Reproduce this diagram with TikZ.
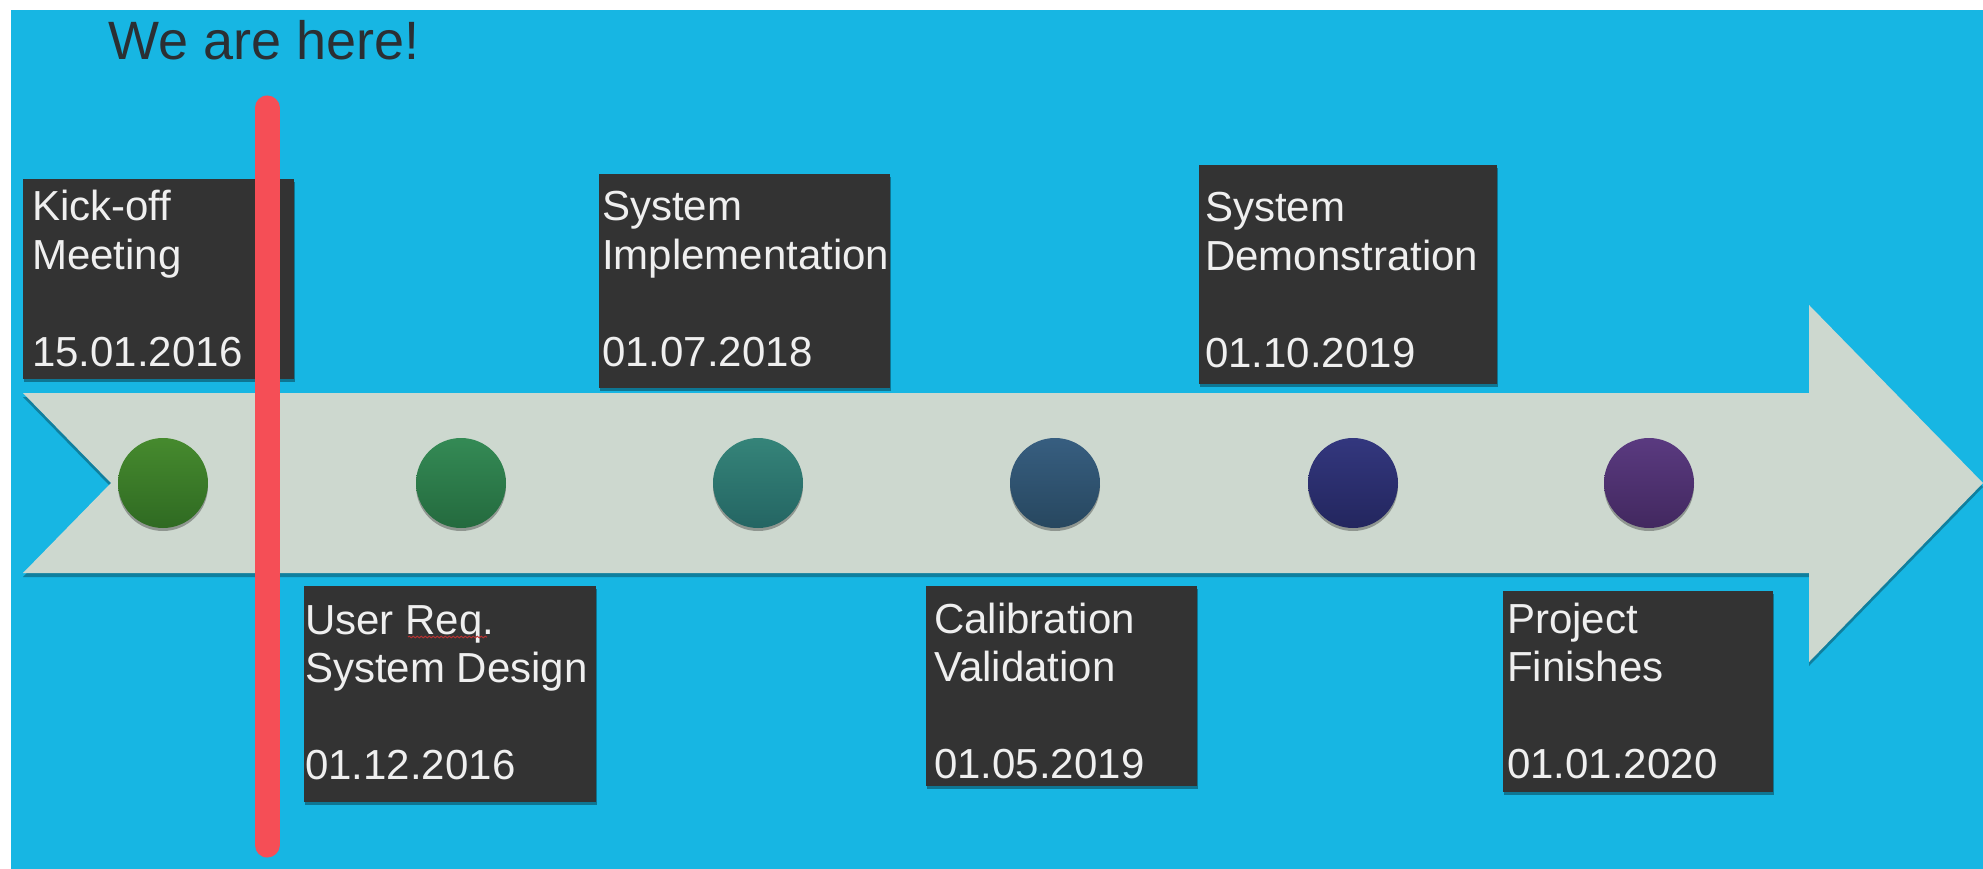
\documentclass[tikz,border=0pt]{standalone}
\usepackage{fontspec}
\setmainfont{Liberation Sans}
\usetikzlibrary{shadows,decorations.pathmorphing}
\definecolor{bgblue}{HTML}{17B6E3}
\definecolor{arrowgray}{HTML}{CDD8CF}
\definecolor{boxdark}{HTML}{333333}
\definecolor{boxtext}{HTML}{EFEFEF}
\definecolor{herered}{HTML}{F54E56}
\definecolor{titlegray}{HTML}{2B2F33}
\definecolor{spellred}{HTML}{B83232}
\newcommand{\mslines}[3]{\vtop{\hbox{#1}\hbox{#2}\hbox{}\hbox{#3}}}
\begin{document}
\begin{tikzpicture}[x=1pt,y=-1pt,
  darkbox/.style={fill=boxdark, draw=none, inner sep=0pt, anchor=north west,
    drop shadow={shadow xshift=1pt, shadow yshift=-2.5pt, opacity=0.35, fill=black}},
  boxlabel/.style={anchor=base west, inner sep=0pt, text=boxtext,
    font=\fontsize{42}{48.5}\selectfont},
  dot/.style={circle, minimum size=90pt, inner sep=0pt, draw=none,
    drop shadow={shadow xshift=0pt, shadow yshift=-3pt, opacity=0.3, fill=black}},
]
\useasboundingbox (0,0) rectangle (1983,869);
\fill[white] (0,0) rectangle (1983,869);
\fill[bgblue] (11,10) rectangle (1983,869);

% timeline arrow
\path[fill=arrowgray, drop shadow={shadow xshift=0pt, shadow yshift=-4pt, opacity=0.3, fill=black}]
  (23,393) -- (1809,393) -- (1809,305) -- (1983,483) -- (1809,662)
  -- (1809,573) -- (23,573) -- (111,483) -- cycle;

% milestone dots
\node[dot, top color={rgb,255:red,70;green,138;blue,46}, bottom color={rgb,255:red,47;green,106;blue,34}] (c1) at (163,483) {};
\node[dot, top color={rgb,255:red,52;green,138;blue,85}, bottom color={rgb,255:red,36;green,106;blue,62}] (c2) at (461,483) {};
\node[dot, top color={rgb,255:red,53;green,132;blue,121}, bottom color={rgb,255:red,36;green,101;blue,99}] (c3) at (758,483) {};
\node[dot, top color={rgb,255:red,55;green,94;blue,128}, bottom color={rgb,255:red,39;green,71;blue,95}] (c4) at (1055,483) {};
\node[dot, top color={rgb,255:red,51;green,55;blue,126}, bottom color={rgb,255:red,35;green,38;blue,94}] (c5) at (1353,483) {};
\node[dot, top color={rgb,255:red,90;green,58;blue,128}, bottom color={rgb,255:red,66;green,40;blue,95}] (c6) at (1649,483) {};

% boxes
\node[darkbox, minimum width=271pt, minimum height=200pt] (b1) at (23,179) {};
\node[darkbox, minimum width=291pt, minimum height=214pt] (b2) at (599,174) {};
\node[darkbox, minimum width=298pt, minimum height=219pt] (b3) at (1199,165) {};
\node[darkbox, minimum width=292pt, minimum height=216pt] (b4) at (304,586) {};
\node[darkbox, minimum width=271pt, minimum height=200pt] (b5) at (926,586) {};
\node[darkbox, minimum width=270pt, minimum height=201pt] (b6) at (1503,591) {};

% labels
\node[boxlabel] (t1) at (32,221) {\mslines{Kick-off}{Meeting}{15.01.2016}};
\node[boxlabel] (t2) at (602,221) {\mslines{System}{Implementation}{01.07.2018}};
\node[boxlabel] (t3) at (1205,222) {\mslines{System}{Demonstration}{01.10.2019}};
\node[boxlabel] (t4) at (305,634) {\mslines{User Req.}{System Design}{01.12.2016}};
\node[boxlabel] (t5) at (934,633) {\mslines{Calibration}{Validation}{01.05.2019}};
\node[boxlabel] (t6) at (1507,633) {\mslines{Project}{Finishes}{01.01.2020}};

% spell-check squiggle under "Req"
\coordinate (sqa) at (408,637);
\coordinate (sqb) at (487,637);
\draw[spellred, line width=1pt, decorate, decoration={snake, amplitude=0.8pt, segment length=4pt}] (sqa) -- (sqb);

% title
\node[anchor=base west, inner sep=0pt, text=titlegray, font=\fontsize{54}{60}\selectfont] (here) at (108,60) {We are here!};

% current position marker
\coordinate (rtop) at (267,108);
\coordinate (rbot) at (267,845);
\draw[herered, line width=25pt, line cap=round] (rtop) -- (rbot);
\end{tikzpicture}
\end{document}
